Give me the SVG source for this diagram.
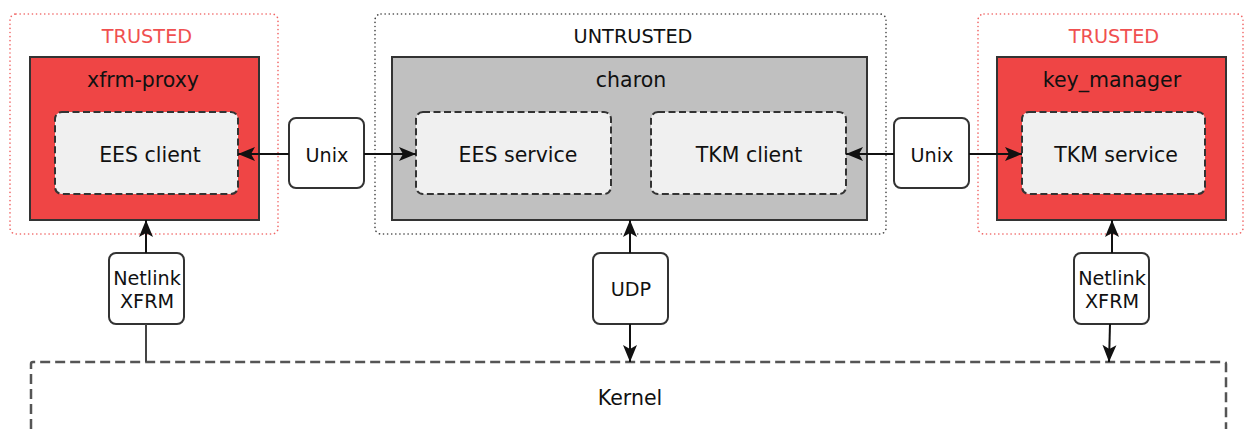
<svg xmlns="http://www.w3.org/2000/svg" width="1244" height="429" viewBox="0 0 1244 429">
<style>
text{font-family:"DejaVu Sans","Liberation Sans",sans-serif;fill:#111;text-anchor:middle}
.zone{font-size:19.3px}
.title{font-size:20.5px}
.lbl{font-size:20.5px}
.small{font-size:19.2px}
.tz{fill:none;stroke:#f06464;stroke-width:1.6;stroke-dasharray:0.1 4;stroke-linecap:round}
.uz{fill:none;stroke:#444;stroke-width:1.6;stroke-dasharray:0.1 4;stroke-linecap:round}
.proc{stroke:#333;stroke-width:2}
.red{fill:#ef4545}
.gray{fill:#c0c0c0}
.inner{fill:#f0f0f0;stroke:#333;stroke-width:2;stroke-dasharray:7 3.5}
.chan{fill:#fff;stroke:#333;stroke-width:2}
.conn{fill:none;stroke:#111;stroke-width:2}
.plain{fill:none;stroke:#444;stroke-width:2}
.kern{fill:none;stroke:#555;stroke-width:2.5;stroke-dasharray:10 5}
</style>
<defs>
<marker id="arr" markerUnits="userSpaceOnUse" markerWidth="20" markerHeight="18" viewBox="-18 -9 20 18" refX="0" refY="0" orient="auto">
<path d="M0,0 L-17,-7 L-13,0 L-17,7 Z" fill="#111"/>
</marker>
</defs>

<g id="zone-left">
<rect class="tz" x="10" y="14" width="268" height="220" rx="6"/>
<text class="zone" x="147" y="42.5" style="fill:#f05050">TRUSTED</text>
</g>
<g id="zone-untrusted">
<rect class="uz" x="375" y="14" width="511" height="220" rx="6"/>
<text class="zone" x="633" y="42.5">UNTRUSTED</text>
</g>
<g id="zone-right">
<rect class="tz" x="978" y="14" width="265" height="220" rx="6"/>
<text class="zone" x="1114" y="42.5" style="fill:#f05050">TRUSTED</text>
</g>

<g id="xfrm-proxy">
<rect class="proc red" x="30" y="57" width="229" height="163"/>
<text class="title" x="143" y="87">xfrm-proxy</text>
</g>
<g id="ees-client">
<rect class="inner" x="55" y="112" width="183" height="82" rx="7"/>
<text class="lbl" x="150" y="161.5">EES client</text>
</g>
<g id="charon">
<rect class="proc gray" x="392" y="57" width="475" height="163"/>
<text class="title" x="631" y="87">charon</text>
</g>
<g id="ees-service">
<rect class="inner" x="416" y="112" width="195" height="82" rx="7"/>
<text class="lbl" x="518" y="161.5">EES service</text>
</g>
<g id="tkm-client">
<rect class="inner" x="651" y="112" width="195" height="82" rx="7"/>
<text class="lbl" x="749" y="161.5">TKM client</text>
</g>
<g id="key-manager">
<rect class="proc red" x="997" y="57" width="229" height="163"/>
<text class="title" x="1112" y="87">key_manager</text>
</g>
<g id="tkm-service">
<rect class="inner" x="1022" y="112" width="183" height="82" rx="7"/>
<text class="lbl" x="1116" y="161.5">TKM service</text>
</g>

<g id="kernel">
<path class="kern" d="M31,429 V364 Q31,362 33,362 H1224 Q1226,362 1226,364 V429"/>
<text class="lbl" x="630" y="405">Kernel</text>
</g>

<g id="unix-left">
<rect class="chan" x="289" y="118" width="75" height="70" rx="7"/>
<text class="small" x="327" y="161.5">Unix</text>
</g>
<g id="unix-right">
<rect class="chan" x="894" y="118" width="75" height="70" rx="7"/>
<text class="small" x="932" y="161.5">Unix</text>
</g>
<g id="netlink-left">
<rect class="chan" x="109" y="253" width="75" height="71" rx="7"/>
<text class="small" x="147" y="284.5">Netlink</text>
<text class="small" x="147" y="307.5">XFRM</text>
</g>
<g id="udp">
<rect class="chan" x="593" y="253" width="75" height="71" rx="7"/>
<text class="small" x="631" y="296">UDP</text>
</g>
<g id="netlink-right">
<rect class="chan" x="1074" y="253" width="75" height="71" rx="7"/>
<text class="small" x="1112" y="284.5">Netlink</text>
<text class="small" x="1112" y="307.5">XFRM</text>
</g>

<g id="connectors">
<line class="conn" x1="289" y1="154" x2="238" y2="154" marker-end="url(#arr)"/>
<line class="conn" x1="364" y1="154" x2="416" y2="154" marker-end="url(#arr)"/>
<line class="conn" x1="894" y1="154" x2="846" y2="154" marker-end="url(#arr)"/>
<line class="conn" x1="969" y1="154" x2="1022" y2="154" marker-end="url(#arr)"/>
<line class="conn" x1="146" y1="253" x2="146" y2="220" marker-end="url(#arr)"/>
<line class="plain" x1="146" y1="324" x2="146" y2="362"/>
<line class="conn" x1="630" y1="253" x2="630" y2="220" marker-end="url(#arr)"/>
<line class="conn" x1="630" y1="324" x2="630" y2="362" marker-end="url(#arr)"/>
<line class="conn" x1="1112" y1="253" x2="1112" y2="220" marker-end="url(#arr)"/>
<line class="conn" x1="1110" y1="324" x2="1109" y2="362" marker-end="url(#arr)"/>
</g>
</svg>
